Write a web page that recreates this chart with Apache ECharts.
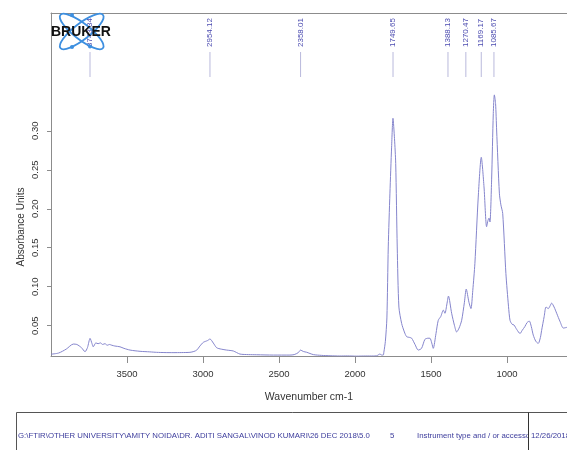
<!DOCTYPE html>
<html>
<head>
<meta charset="utf-8">
<script src="https://cdn.jsdelivr.net/npm/echarts@6/dist/echarts.min.js"></script>
<style>html,body{margin:0;padding:0;background:#fff;overflow:hidden;}#c{width:567px;height:450px;}</style>
</head>
<body>
<div id="c"></div>
<script>
// ---- data ----
const wavenumbers = [4000,3950,3900,3853,3830,3800,3776,3760,3743,3730,3722,3705,3690,3675,3660,3645,3630,3615,3600,3580,3546,3520,3480,3414,3350,3305,3250,3197,3140,3086,3060,3041,3020,2998,2970,2954,2932,2910,2880,2844,2800,2757,2700,2647,2537,2428,2400,2373,2358,2340,2318,2274,2220,2164,2100,2050,1989,1930,1880,1857,1836,1825,1814,1810,1800,1790,1781,1770,1759,1750,1740,1732,1722,1711,1693,1675,1660,1640,1627,1605,1584,1562,1540,1520,1507,1495,1485,1467,1452,1435,1419,1408,1395,1385,1364,1345,1331,1315,1298,1280,1268,1250,1237,1225,1211,1189,1169,1151,1134,1125,1118,1112,1101,1090,1083,1075,1068,1050,1040,1028,1007,990,980,967,954,935,914,900,882,868,853,840,827,810,794,780,772,755,743,728,715,706,690,673,650,629,605];
const absorbance = [0.0135,0.0150,0.020,0.0265,0.026,0.022,0.0167,0.022,0.0338,0.027,0.023,0.028,0.027,0.028,0.026,0.027,0.025,0.026,0.025,0.024,0.023,0.021,0.0188,0.0172,0.0165,0.0159,0.0156,0.0155,0.0156,0.0159,0.017,0.0188,0.024,0.0287,0.031,0.033,0.0278,0.0218,0.020,0.0188,0.0176,0.0137,0.013,0.0128,0.0124,0.0124,0.013,0.0155,0.0188,0.017,0.016,0.013,0.012,0.0115,0.0112,0.0113,0.011,0.0112,0.0112,0.0115,0.0137,0.0125,0.0124,0.016,0.03,0.06,0.151,0.22,0.279,0.316,0.29,0.258,0.151,0.074,0.053,0.042,0.036,0.035,0.034,0.026,0.0188,0.021,0.0325,0.034,0.034,0.028,0.021,0.040,0.057,0.062,0.070,0.066,0.078,0.088,0.066,0.05,0.042,0.047,0.057,0.08,0.097,0.08,0.072,0.095,0.13,0.215,0.266,0.228,0.177,0.185,0.188,0.183,0.237,0.322,0.346,0.335,0.301,0.22,0.205,0.194,0.117,0.075,0.057,0.052,0.051,0.045,0.040,0.044,0.049,0.054,0.056,0.049,0.038,0.030,0.0274,0.035,0.044,0.062,0.074,0.072,0.076,0.079,0.074,0.066,0.055,0.047,0.048];
const peakWavenumbers = [3743.34,2954.12,2358.01,1749.65,1388.13,1270.47,1169.17,1085.67];
const peakLabels = ['3743.34','2954.12','2358.01','1749.65','1388.13','1270.47','1169.17','1085.67'];
const xTicks = [3500,3000,2500,2000,1500,1000];
const yTicks = [0.05,0.10,0.15,0.20,0.25,0.30];
const footerPath = 'G:\\FTIR\\OTHER UNIVERSITY\\AMITY NOIDA\\DR. ADITI SANGAL\\VINOD KUMARI\\26 DEC 2018\\5.0';
const footerNum = '5';
const footerInstr = 'Instrument type and / or accessory';
const footerDate = '12/26/2018';

const FONT = '"Liberation Sans", Arial, sans-serif';
const spectrum = wavenumbers.map((w, i) => [w, absorbance[i]]);
const peaks = peakWavenumbers.map((w, i) => [w, peakLabels[i]]);
const FOOT_Y = 436;
const FRAME = '#8c8c8c';

const chart = echarts.init(document.getElementById('c'), null, {renderer: 'canvas'});
chart.setOption({
  animation: false,
  backgroundColor: '#fff',
  grid: {left: 51, top: 13, right: 0, bottom: 94, show: false},
  xAxis: [{
    type: 'value', inverse: true, min: 605, max: 4000, position: 'bottom',
    name: 'Wavenumber cm-1', nameLocation: 'middle', nameGap: 36,
    nameTextStyle: {color: '#333', fontSize: 10.5, fontFamily: FONT},
    axisLine: {show: true, onZero: false, lineStyle: {color: FRAME, width: 1}},
    splitLine: {show: false},
    axisTick: {show: true, length: 7, lineStyle: {color: FRAME}, customValues: xTicks},
    axisLabel: {color: '#333', fontSize: 9.5, fontFamily: FONT, margin: 13, customValues: xTicks, formatter: v => String(v)}
  }, {
    type: 'value', inverse: true, min: 605, max: 4000, position: 'top',
    axisLine: {show: true, onZero: false, lineStyle: {color: FRAME, width: 1}},
    axisTick: {show: false}, axisLabel: {show: false}, splitLine: {show: false}
  }],
  yAxis: {
    type: 'value', min: 0.0112, max: 0.451,
    axisLine: {show: true, onZero: false, lineStyle: {color: FRAME, width: 1}},
    splitLine: {show: false},
    axisTick: {show: true, length: 4, lineStyle: {color: FRAME}, customValues: yTicks},
    axisLabel: {color: '#333', fontSize: 9.5, fontFamily: FONT, rotate: 90, margin: 11,
      customValues: yTicks, formatter: v => v.toFixed(2)}
  },
  series: [
    {
      type: 'line', data: spectrum, showSymbol: false, symbol: 'none',
      lineStyle: {color: '#8585cc', width: 1}, smooth: 0.25, clip: true, z: 2
    },
    {
      type: 'custom', data: peaks, z: 3, clip: false,
      renderItem: function (params, api) {
        const x = api.coord([api.value(0), 0.2])[0];
        return {
          type: 'group',
          children: [
            {type: 'line', shape: {x1: x, y1: 52, x2: x, y2: 77}, style: {stroke: '#b9b9dc', lineWidth: 1}},
            {type: 'text', x: x, y: 47, rotation: Math.PI / 2,
              style: {text: peakLabels[params.dataIndex], fill: '#4b4bb0', font: '8px ' + FONT, align: 'left', verticalAlign: 'middle'}}
          ]
        };
      }
    }
  ],
  graphic: [
    {type: 'text', x: 21, y: 227, rotation: Math.PI / 2,
      style: {text: 'Absorbance Units', fill: '#333', font: '10px ' + FONT, align: 'center', verticalAlign: 'middle'}},
    // logo
    {type: 'ellipse', shape: {cx: 81.7, cy: 31.5, rx: 27, ry: 8}, rotation: -0.66, originX: 81.7, originY: 31.5,
      style: {fill: 'none', stroke: '#3d8fe0', lineWidth: 1.8}, z: 10},
    {type: 'ellipse', shape: {cx: 81.7, cy: 31.5, rx: 27, ry: 8}, rotation: 0.66, originX: 81.7, originY: 31.5,
      style: {fill: 'none', stroke: '#3d8fe0', lineWidth: 1.8}, z: 10},
    {type: 'circle', shape: {cx: 72, cy: 15, r: 2}, style: {fill: '#3d8fe0'}, z: 10},
    {type: 'circle', shape: {cx: 72, cy: 47, r: 2}, style: {fill: '#3d8fe0'}, z: 10},
    {type: 'circle', shape: {cx: 90, cy: 46.5, r: 2}, style: {fill: '#3d8fe0'}, z: 10},
    {type: 'text', x: 51, y: 31.7, z: 11,
      style: {text: 'BRUKER', fill: '#111', font: 'bold 14px ' + FONT, align: 'left', verticalAlign: 'middle'}},
    // footer
    {type: 'rect', shape: {x: 16.5, y: 412.5, width: 600, height: 100}, style: {fill: 'none', stroke: '#555', lineWidth: 1}, z: 5},
    {type: 'text', x: 18, y: FOOT_Y, z: 6,
      style: {text: footerPath, fill: '#3c3c9c', font: '7.8px ' + FONT, align: 'left', verticalAlign: 'middle'}},
    {type: 'text', x: 390, y: FOOT_Y, z: 6,
      style: {text: footerNum, fill: '#3c3c9c', font: '7.8px ' + FONT, align: 'left', verticalAlign: 'middle'}},
    {type: 'text', x: 417, y: FOOT_Y, z: 6,
      style: {text: footerInstr, fill: '#3c3c9c', font: '7.8px ' + FONT, align: 'left', verticalAlign: 'middle'}},
    {type: 'rect', shape: {x: 529, y: 414, width: 60, height: 40}, style: {fill: '#fff'}, z: 7},
    {type: 'line', shape: {x1: 528.5, y1: 412.5, x2: 528.5, y2: 450}, style: {stroke: '#333', lineWidth: 1}, z: 8},
    {type: 'text', x: 531, y: FOOT_Y, z: 8,
      style: {text: footerDate, fill: '#3c3c9c', font: '7.8px ' + FONT, align: 'left', verticalAlign: 'middle'}}
  ]
});
</script>
</body>
</html>
